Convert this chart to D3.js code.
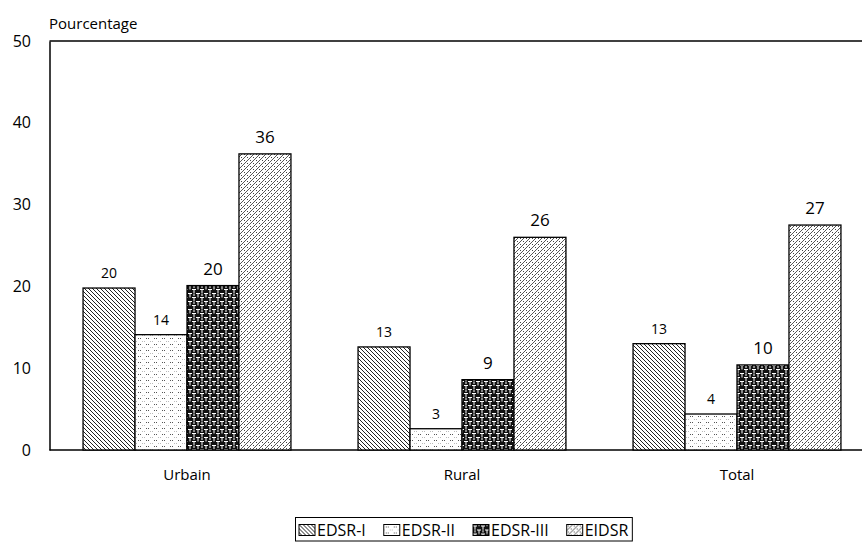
<!DOCTYPE html>
<html>
<head>
<meta charset="utf-8">
<script src="https://cdn.jsdelivr.net/npm/d3@7"></script>
<style>
  html, body { margin: 0; padding: 0; background: #fff; overflow: hidden; }
  svg { display: block; font-family: "Open Sans", Lato, sans-serif; }
</style>
</head>
<body>
<svg id="chart" width="863" height="542"></svg>
<script>
// ---- data ----
const categories = ["Urbain", "Rural", "Total"];
const seriesNames = ["EDSR-I", "EDSR-II", "EDSR-III", "EIDSR"];
const edsr1 = [19.8, 12.6, 13.0];
const edsr2 = [14.1, 2.6, 4.4];
const edsr3 = [20.1, 8.6, 10.4];
const eidsr = [36.2, 26.0, 27.5];
const edsr1Labels = ["20", "13", "13"];
const edsr2Labels = ["14", "3", "4"];
const edsr3Labels = ["20", "9", "10"];
const eidsrLabels = ["36", "26", "27"];
const yTicks = [0, 10, 20, 30, 40, 50];
const yTitle = "Pourcentage";

const seriesValues = [edsr1, edsr2, edsr3, eidsr];
const seriesLabels = [edsr1Labels, edsr2Labels, edsr3Labels, eidsrLabels];
const patternIds = ["p1", "p2", "p3", "p4"];

const svg = d3.select("#chart");
const FONT = "'Open Sans', Lato, sans-serif";

// ---- patterns ----
const defs = svg.append("defs");
// EDSR-I : dense backslash hatching
{
  const p = defs.append("pattern").attr("id", "p1").attr("patternUnits", "userSpaceOnUse")
    .attr("width", 4).attr("height", 4);
  p.append("rect").attr("width", 4).attr("height", 4).attr("fill", "#fff");
  p.append("path").attr("d", "M-1,-1 L5,5 M-1,3 L1,5 M3,-1 L5,1")
    .attr("stroke", "#222").attr("stroke-width", 1);
}
// EDSR-II : dotted pairs
{
  const p = defs.append("pattern").attr("id", "p2").attr("patternUnits", "userSpaceOnUse")
    .attr("width", 8).attr("height", 6);
  p.append("rect").attr("width", 8).attr("height", 6).attr("fill", "#fff");
  p.append("rect").attr("x", 2).attr("y", 2).attr("width", 1).attr("height", 1).attr("fill", "#555");
  p.append("rect").attr("x", 4).attr("y", 2).attr("width", 1).attr("height", 1).attr("fill", "#555");
  p.append("rect").attr("x", 6).attr("y", 5).attr("width", 1).attr("height", 1).attr("fill", "#bbb");
  p.append("rect").attr("x", 0).attr("y", 5).attr("width", 1).attr("height", 1).attr("fill", "#bbb");
}
// EDSR-III : black weave
{
  const p = defs.append("pattern").attr("id", "p3").attr("patternUnits", "userSpaceOnUse")
    .attr("width", 8).attr("height", 8);
  p.append("rect").attr("width", 8).attr("height", 8).attr("fill", "#111");
  p.append("path").attr("d", "M0,1.5 H4 M2,1.5 V5 M4,5.5 H8 M6,5.5 V9 M6,-1 V1.5 M2,5.5 V8")
    .attr("stroke", "#fff").attr("stroke-width", 1).attr("fill", "none");
}
// EIDSR : forward slash + dots
{
  const p = defs.append("pattern").attr("id", "p4").attr("patternUnits", "userSpaceOnUse")
    .attr("width", 6).attr("height", 6);
  p.append("rect").attr("width", 6).attr("height", 6).attr("fill", "#fff");
  p.append("path").attr("d", "M-1,7 L7,-1 M-1,1 L1,-1 M5,7 L7,5")
    .attr("stroke", "#555").attr("stroke-width", 1);
  p.append("rect").attr("x", 1).attr("y", 1).attr("width", 1).attr("height", 1).attr("fill", "#444");
  p.append("rect").attr("x", 4).attr("y", 4).attr("width", 1).attr("height", 1).attr("fill", "#444");
}

// ---- scales ----
const plotLeft = 49.5, plotRight = 862, plotTop = 41, plotBottom = 450;
const y = d3.scaleLinear().domain([0, 50]).range([plotBottom, plotTop]);
const x0 = d3.scaleBand().domain(categories).range([49.5, 874.5])
  .paddingInner(0.244).paddingOuter(0.122);
const x1 = d3.scaleBand().domain(seriesNames).range([0, x0.bandwidth()]);

// ---- frame ----
svg.append("line").attr("x1", plotLeft).attr("x2", plotRight).attr("y1", plotTop).attr("y2", plotTop)
  .attr("stroke", "#000").attr("stroke-width", 1.5);
svg.append("line").attr("x1", plotLeft).attr("x2", plotRight).attr("y1", plotBottom).attr("y2", plotBottom)
  .attr("stroke", "#000").attr("stroke-width", 1.5);

// y axis
const yAxis = d3.axisLeft(y).tickValues(yTicks).tickSize(0).tickPadding(18.5);
const yg = svg.append("g").attr("transform", `translate(${plotLeft},0)`).call(yAxis);
yg.select(".domain").attr("stroke", "#000").attr("stroke-width", 1.5);
yg.selectAll("text").attr("font-size", 16).attr("font-family", FONT).attr("fill", "#000");

svg.append("text").attr("x", 49).attr("y", 28.5).attr("font-size", 15).attr("fill", "#000").text(yTitle);

// ---- bars ----
seriesNames.forEach((s, si) => {
  const g = svg.append("g");
  categories.forEach((c, ci) => {
    const v = seriesValues[si][ci];
    const bx = x0(c) + x1(s);
    g.append("rect")
      .attr("x", bx).attr("y", y(v))
      .attr("width", x1.bandwidth()).attr("height", y(0) - y(v))
      .attr("fill", `url(#${patternIds[si]})`)
      .attr("stroke", "#000").attr("stroke-width", 1.3);
    g.append("text")
      .attr("x", bx + x1.bandwidth() / 2)
      .attr("y", y(v) - (si < 2 ? 10 : 11))
      .attr("text-anchor", "middle")
      .attr("font-size", si < 2 ? 14 : 17)
      .attr("fill", "#000")
      .text(seriesLabels[si][ci]);
  });
});

// x axis labels
const xAxis = d3.axisBottom(x0).tickSize(0).tickPadding(19);
const xg = svg.append("g").attr("transform", `translate(0,${plotBottom})`).call(xAxis);
xg.select(".domain").remove();
xg.selectAll("text").attr("font-size", 15).attr("font-family", FONT).attr("fill", "#000");

// ---- legend ----
const legend = svg.append("g");
const legItems = legend.selectAll("g.item").data(seriesNames).enter().append("g").attr("class", "item");
legItems.append("rect").attr("x", 0).attr("y", 0).attr("width", 16).attr("height", 11)
  .attr("fill", (d, i) => `url(#${patternIds[i]})`).attr("stroke", "#000").attr("stroke-width", 1);
legItems.append("text").attr("x", 18).attr("y", 11.5).attr("font-size", 16).attr("fill", "#000").text(d => d);
let lx = 299;
legItems.each(function () {
  const w = this.querySelector("text").getComputedTextLength();
  d3.select(this).attr("transform", `translate(${lx},524.5)`);
  lx += 18 + w + 18;
});
const legRight = lx - 18 + 4;
legend.insert("rect", ":first-child").attr("x", 295.5).attr("y", 517.5)
  .attr("width", legRight - 295.5).attr("height", 23.5)
  .attr("fill", "#fff").attr("stroke", "#000").attr("stroke-width", 1);
</script>
</body>
</html>
